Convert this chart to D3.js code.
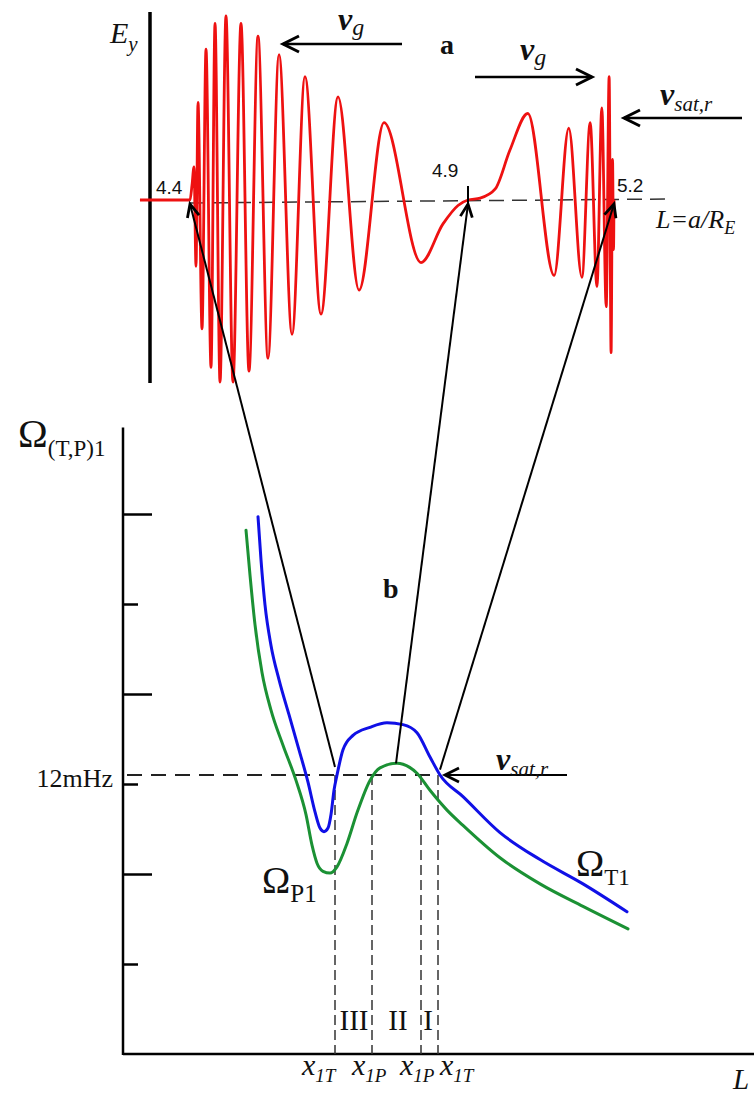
<!DOCTYPE html>
<html>
<head>
<meta charset="utf-8">
<script src="https://cdn.jsdelivr.net/npm/d3@7"></script>
<style>
  body { margin: 0; background: #fff; }
  svg { display: block; }
  text { font-family: "Liberation Serif", "Times New Roman", serif; fill: #111; }
  .sans { font-family: "Liberation Sans", Arial, sans-serif; }
</style>
</head>
<body>
<script>
// ---------- Panel a: E_y wave packet along L = a/R_E ----------
// Successive extrema of the wave (L, normalised E_y)
const waveL  = [4.310, 4.400, 4.4036, 4.4072, 4.4108, 4.4144, 4.4216, 4.4288, 4.4378, 4.4450,
                4.4540, 4.4647, 4.4773, 4.4917, 4.5061, 4.5223, 4.5403, 4.5601, 4.5835, 4.6068,
                4.6356, 4.6662, 4.7040, 4.7489, 4.8155, 4.855, 4.882, 4.900, 4.925, 4.956,
                4.986, 5.023, 5.077, 5.107, 5.134, 5.151, 5.165, 5.175, 5.184, 5.190,
                5.194, 5.197, 5.199, 5.200];
const waveEy = [0, 0, 0.08, 0.18, -0.36, 0.53, -0.70, 0.82, -0.91, 0.96,
                -0.99, 1.00, -0.99, 0.96, -0.93, 0.89, -0.86, 0.79, -0.73, 0.67,
                -0.62, 0.56, -0.49, 0.42, -0.34, -0.13, -0.03, 0, 0.01, 0.06,
                0.27, 0.47, -0.41, 0.39, -0.42, 0.42, -0.47, 0.50, -0.58, 0.67,
                -0.83, 0.22, -0.27, 0];
const markerL      = [4.4, 4.9, 5.2];
const markerLabels = ["4.4", "4.9", "5.2"];

// ---------- Panel b: eigenfrequencies Ω_T1 (blue) and Ω_P1 (green) ----------
const blueX      = [1.35, 1.38, 1.42, 1.48, 1.56, 1.66, 1.76, 1.85, 1.92, 1.97, 2.01, 2.05, 2.08, 2.11,
                    2.14, 2.20, 2.30, 2.47, 2.64, 2.80, 2.94, 3.07, 3.17, 3.40, 3.77, 4.17, 4.60, 5.04];
const blueOmega  = [5.97, 5.49, 4.99, 4.54, 4.16, 3.77, 3.38, 3.02, 2.69, 2.51, 2.47, 2.51, 2.66, 2.93,
                    3.10, 3.38, 3.54, 3.63, 3.68, 3.66, 3.57, 3.30, 3.10, 2.86, 2.46, 2.16, 1.89, 1.58];
const greenX     = [1.23, 1.27, 1.32, 1.39, 1.48, 1.60, 1.73, 1.83, 1.89, 1.94, 2.00, 2.07, 2.14, 2.24,
                    2.34, 2.47, 2.57, 2.74, 2.80, 2.94, 3.07, 3.24, 3.40, 3.77, 4.17, 4.60, 5.05];
const greenOmega = [5.82, 5.32, 4.77, 4.24, 3.82, 3.43, 3.04, 2.66, 2.32, 2.12, 2.03, 2.01, 2.08, 2.34,
                    2.68, 3.04, 3.18, 3.23, 3.22, 3.12, 2.93, 2.71, 2.54, 2.18, 1.89, 1.64, 1.39];
const yTickLong  = [2, 4, 6];
const yTickShort = [1, 3, 5];
const refOmega   = 3.1;
const refLabel   = "12mHz";
const crossX       = [2.12, 2.49, 2.98, 3.15];
const crossNames   = ["1T", "1P", "1P", "1T"];
const crossLabelX  = [1.79, 2.29, 2.77, 3.17];
const regionLabels = ["III", "II", "I"];
const regionX      = [2.31, 2.75, 3.05];

// links from the resonance points in b to the wave in a
const linkL     = [4.4, 4.9, 5.2];
const linkX     = [2.12, 2.73, 3.17];
const linkOmega = [3.19, 3.23, 3.16];

const W = 754, H = 1097;
const svg = d3.select("body").append("svg").attr("width", W).attr("height", H);

const xTop = d3.scaleLinear().domain([4.4, 4.9, 5.2]).range([190, 468, 614]);
const yTop = d3.scaleLinear().domain([-1, 1]).range([384, 16]);
const xB = d3.scaleLinear().domain([0, 6.31]).range([123, 754]);
const yB = d3.scaleLinear().domain([0, 7]).range([1054, 424]);

// line ending in an open chevron head
function arrow(g, x1, y1, x2, y2, o = {}) {
  const len = o.len || 13, half = o.half || 7, w = o.width || 2.2;
  g.append("line").attr("x1", x1).attr("y1", y1).attr("x2", x2).attr("y2", y2)
    .attr("stroke", "#000").attr("stroke-width", w);
  const a = Math.atan2(y2 - y1, x2 - x1);
  const bx = x2 - len * Math.cos(a), by = y2 - len * Math.sin(a);
  const px = -Math.sin(a) * half, py = Math.cos(a) * half;
  g.append("path")
    .attr("d", `M${bx + px},${by + py}L${x2},${y2}L${bx - px},${by - py}`)
    .attr("fill", "none").attr("stroke", "#000").attr("stroke-width", o.headWidth || 2.8)
    .attr("stroke-linejoin", "miter");
}

// subscripted label: main + sub
function label(g, x, y, main, sub, o = {}) {
  const t = g.append("text").attr("x", x).attr("y", y);
  t.append("tspan").text(main).attr("font-size", o.size || 28)
    .attr("font-style", o.italic ? "italic" : null)
    .attr("font-weight", o.bold ? "bold" : null);
  if (sub) t.append("tspan").text(sub).attr("font-size", o.subSize || 20)
    .attr("dy", o.subDy || 7)
    .attr("font-style", o.subItalic ? "italic" : null);
  return t;
}

// ===== Panel a =====
const ga = svg.append("g");

// baseline (dashed)
ga.append("line").attr("x1", xTop(4.4)).attr("y1", yTop(0) + 3)
  .attr("x2", 670).attr("y2", yTop(0) - 1)
  .attr("stroke", "#333").attr("stroke-width", 1.5).attr("stroke-dasharray", "15,8");

// E_y axis
ga.append("line").attr("x1", 150).attr("x2", 150).attr("y1", 12).attr("y2", 383)
  .attr("stroke", "#000").attr("stroke-width", 3.5);
label(ga, 110, 43, "E", "y", { size: 30, italic: true, subSize: 21, subDy: 8, subItalic: true });

// wave
const waveLine = d3.line().x(d => xTop(d[0])).y(d => yTop(d[1])).curve(d3.curveMonotoneX);
ga.append("path").datum(d3.zip(waveL, waveEy)).attr("d", waveLine)
  .attr("fill", "none").attr("stroke", "#ee1111").attr("stroke-width", 2.8)
  .attr("stroke-linejoin", "round");

// tick at 4.9
ga.append("line").attr("x1", xTop(4.9)).attr("x2", xTop(4.9))
  .attr("y1", yTop(0) - 14).attr("y2", yTop(0) + 6).attr("stroke", "#000").attr("stroke-width", 2);

// L markers
const mkOff = [[-34, -6], [-36, -23], [3, -8]];
markerL.forEach((v, i) => {
  ga.append("text").attr("class", "sans").attr("x", xTop(v) + mkOff[i][0]).attr("y", yTop(0) + mkOff[i][1])
    .attr("font-size", 19).attr("fill", "#222").text(markerLabels[i]);
});

// L = a/R_E
label(ga, 656, 228, "L=a/R", "E", { size: 26, italic: true, subSize: 18, subDy: 6, subItalic: true });

// group velocity / satellite arrows
arrow(ga, 402, 44, 283, 44, { len: 16, half: 8, width: 2.6, headWidth: 3 });
label(ga, 338, 30, "v", "g", { size: 32, italic: true, bold: true, subSize: 24, subDy: 5, subItalic: true });
ga.append("text").attr("x", 440).attr("y", 54).attr("font-size", 28).attr("font-weight", "bold").text("a");
arrow(ga, 475, 77, 592, 77, { len: 16, half: 8, width: 2.6, headWidth: 3 });
label(ga, 520, 60, "v", "g", { size: 32, italic: true, bold: true, subSize: 24, subDy: 5, subItalic: true });
arrow(ga, 742, 118, 624, 118, { len: 16, half: 8, width: 2.6, headWidth: 3 });
label(ga, 660, 105, "v", "sat,r", { size: 32, italic: true, bold: true, subSize: 21, subDy: 6, subItalic: true });

// ===== Panel b =====
const gb = svg.append("g");

// axes
gb.append("line").attr("x1", xB(0)).attr("x2", xB(0)).attr("y1", yB(6.96)).attr("y2", yB(0) + 1)
  .attr("stroke", "#000").attr("stroke-width", 2.5);
gb.append("line").attr("x1", xB(0)).attr("x2", W).attr("y1", yB(0)).attr("y2", yB(0))
  .attr("stroke", "#000").attr("stroke-width", 2.5);

const axLong = d3.axisRight(yB).tickValues(yTickLong).tickSize(29).tickFormat("");
const axShort = d3.axisRight(yB).tickValues(yTickShort).tickSize(15).tickFormat("");
[axLong, axShort].forEach(ax => {
  const g = gb.append("g").attr("transform", `translate(${xB(0)},0)`).call(ax);
  g.select(".domain").remove();
  g.selectAll("line").attr("stroke", "#000").attr("stroke-width", 2.5);
});

// axis titles
label(gb, 18, 447, "Ω", "(T,P)1", { size: 40, subSize: 23, subDy: 9 });
gb.append("text").attr("x", 733).attr("y", 1089).attr("font-size", 29).attr("font-style", "italic").text("L");

// 12 mHz reference level
gb.append("line").attr("x1", xB(0) + 4).attr("x2", xB(3.17)).attr("y1", yB(refOmega)).attr("y2", yB(refOmega))
  .attr("stroke", "#222").attr("stroke-width", 2).attr("stroke-dasharray", "15,9");
gb.append("text").attr("x", 113).attr("y", 787).attr("text-anchor", "end").attr("font-size", 26).text(refLabel);

// resonance positions
crossX.forEach(v => {
  gb.append("line").attr("x1", xB(v)).attr("x2", xB(v)).attr("y1", yB(refOmega)).attr("y2", yB(0))
    .attr("stroke", "#333").attr("stroke-width", 1.5).attr("stroke-dasharray", "10,5");
});
crossNames.forEach((s, i) => {
  label(gb, xB(crossLabelX[i]), 1075, "x", s, { size: 30, italic: true, subSize: 19, subDy: 7, subItalic: true });
});
regionLabels.forEach((s, i) => {
  gb.append("text").attr("x", xB(regionX[i])).attr("y", 1030).attr("text-anchor", "middle")
    .attr("font-size", 29).text(s);
});

// curves
const curve = d3.line().x(d => xB(d[0])).y(d => yB(d[1])).curve(d3.curveMonotoneX);
gb.append("path").datum(d3.zip(greenX, greenOmega)).attr("d", curve)
  .attr("fill", "none").attr("stroke", "#1b9134").attr("stroke-width", 3).attr("stroke-linecap", "round");
gb.append("path").datum(d3.zip(blueX, blueOmega)).attr("d", curve)
  .attr("fill", "none").attr("stroke", "#1010e6").attr("stroke-width", 3).attr("stroke-linecap", "round");

label(gb, 262, 893, "Ω", "P1", { size: 38, subSize: 25, subDy: 9 });
label(gb, 576, 876, "Ω", "T1", { size: 38, subSize: 23, subDy: 9 });
gb.append("text").attr("x", 383).attr("y", 598).attr("font-size", 28).attr("font-weight", "bold").text("b");

// satellite velocity arrow at 12 mHz
arrow(gb, 567, yB(refOmega), xB(3.22), yB(refOmega), { len: 14, half: 7, width: 2.2, headWidth: 2.8 });
label(gb, 496, 770, "v", "sat,r", { size: 32, italic: true, bold: true, subSize: 21, subDy: 6, subItalic: true });

// links between panels
linkL.forEach((v, i) => {
  arrow(svg, xB(linkX[i]), yB(linkOmega[i]), xTop(v), yTop(0) + 4, { len: 13, half: 6, width: 2, headWidth: 2.8 });
});
</script>
</body>
</html>
